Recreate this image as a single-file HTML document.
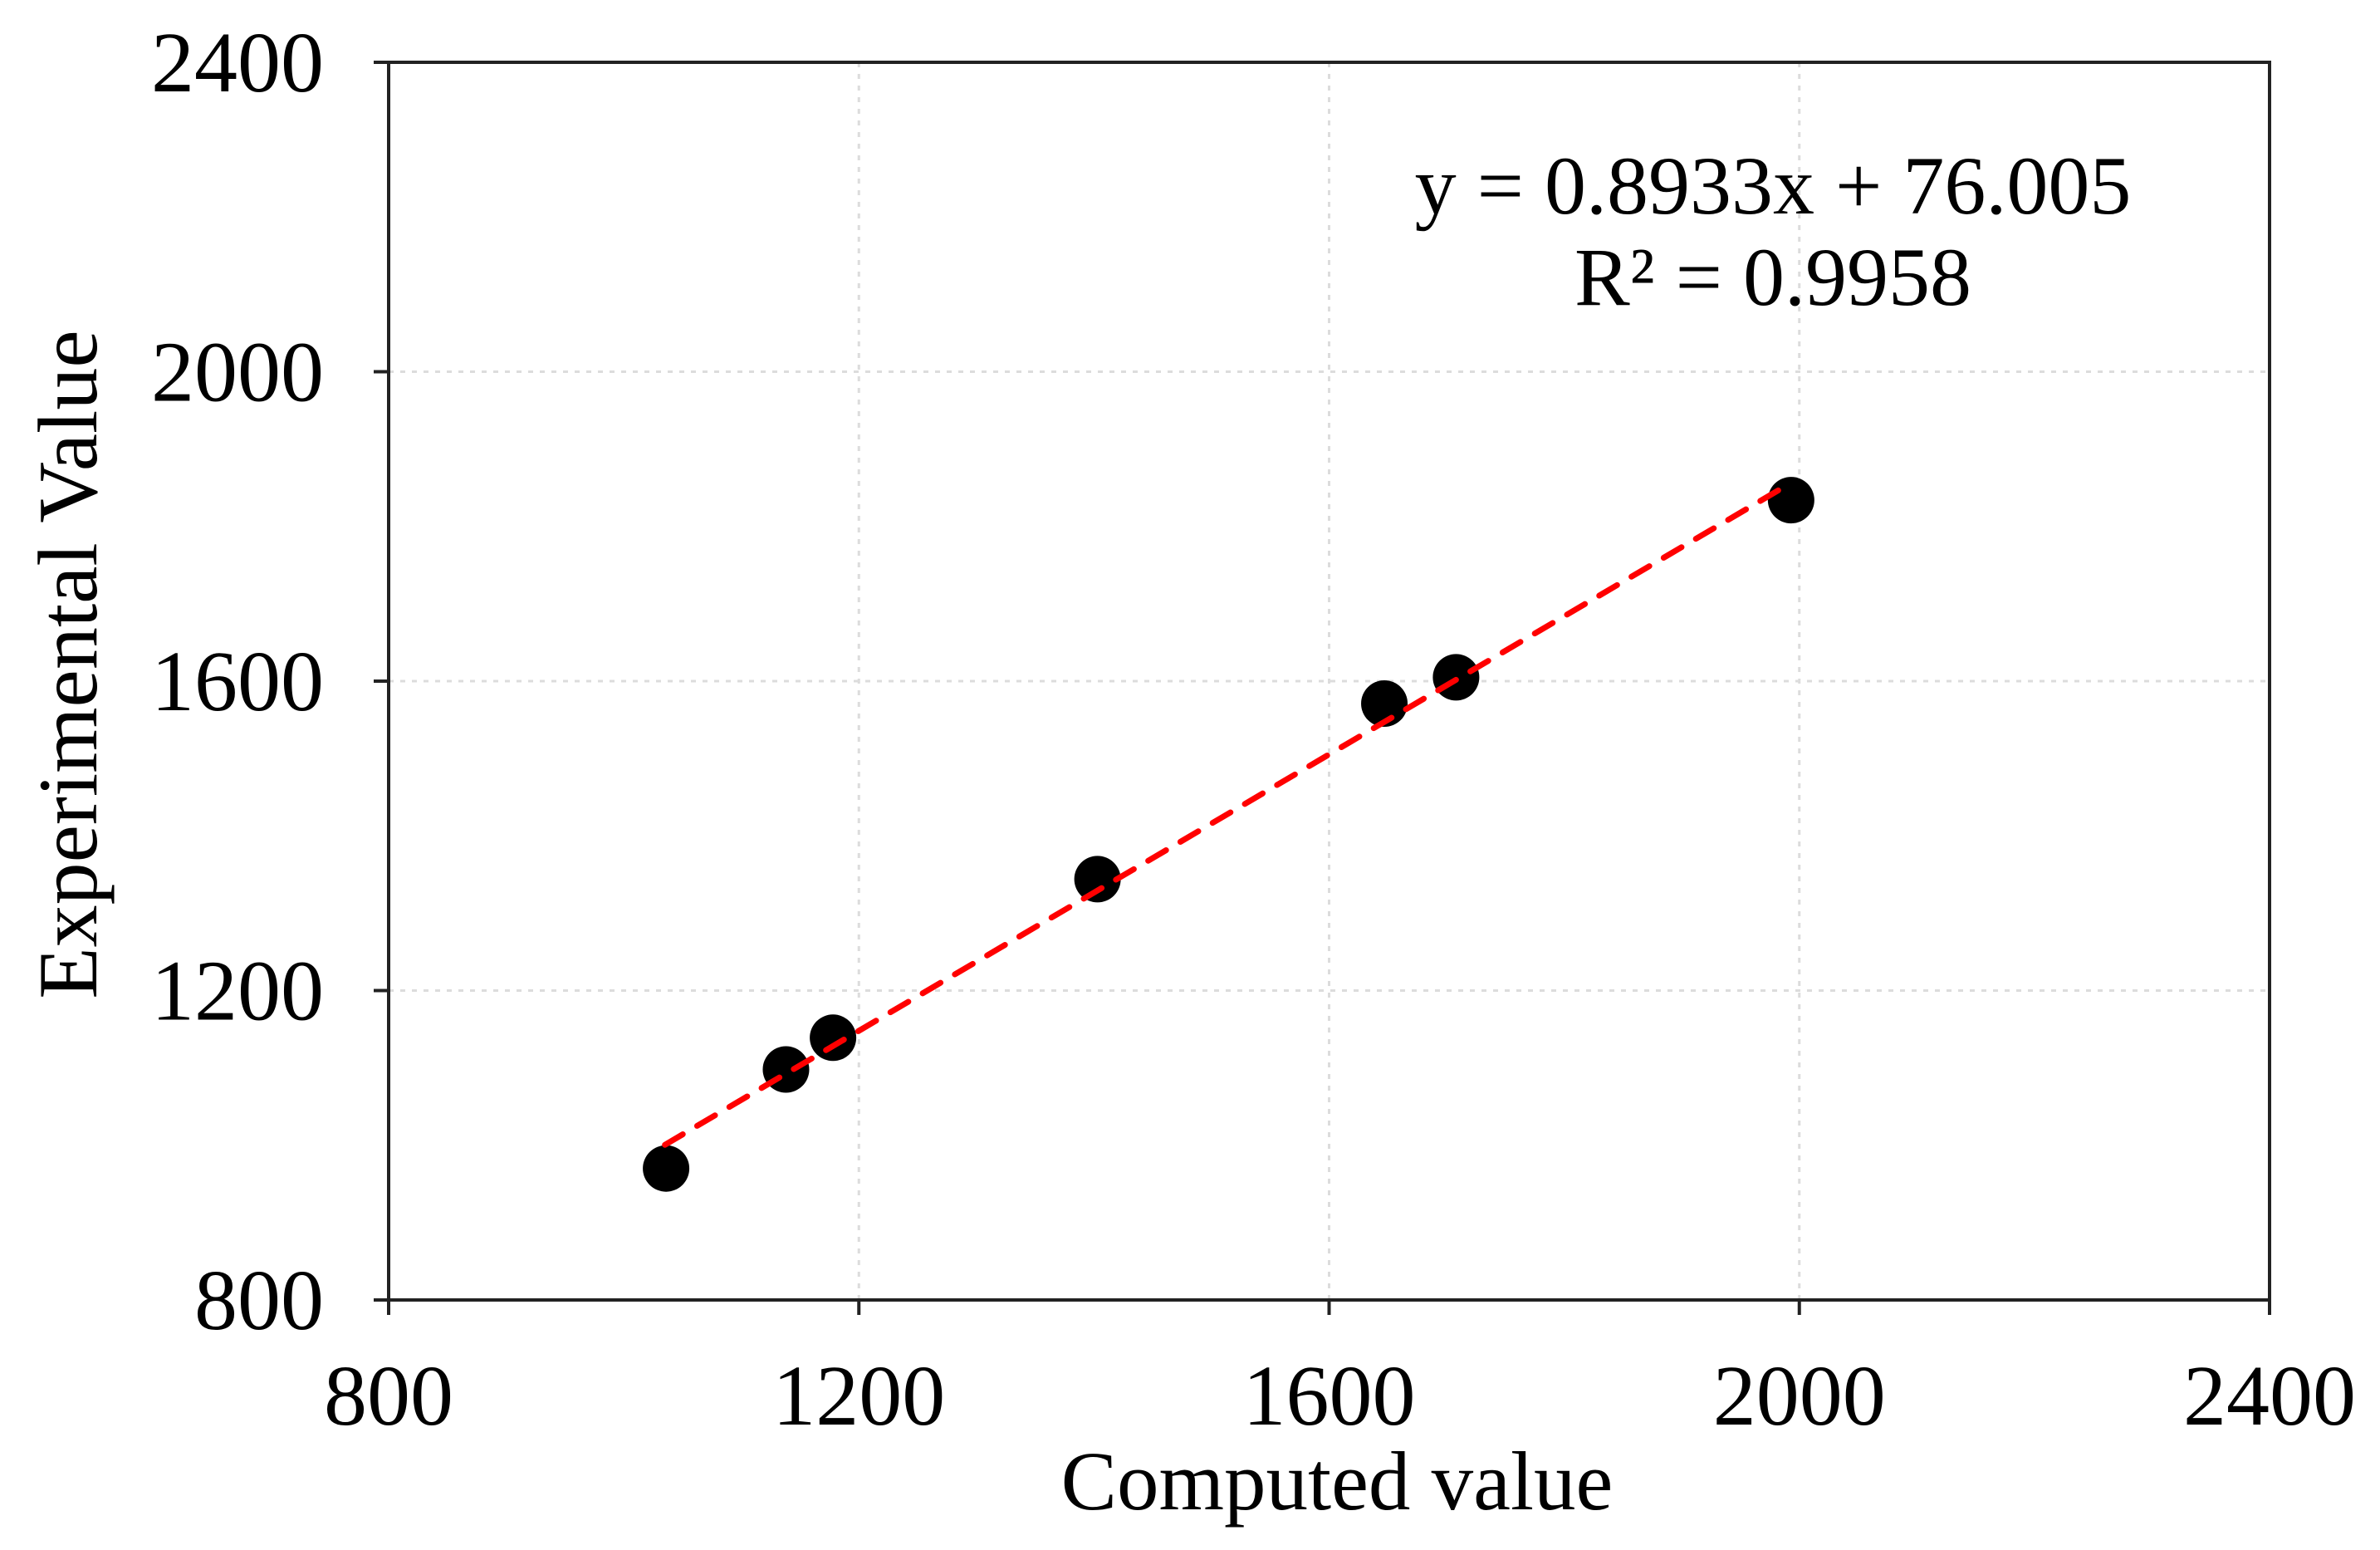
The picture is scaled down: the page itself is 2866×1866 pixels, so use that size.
<!DOCTYPE html>
<html><head><meta charset="utf-8"><style>
html,body{margin:0;padding:0;background:#fff;}
svg{display:block;}
text{font-family:"Liberation Serif",serif;fill:#000;}
</style></head><body>
<svg id="chart" width="2866" height="1866" viewBox="0 0 2866 1866" xmlns="http://www.w3.org/2000/svg">
<g id="grid"></g>
<g id="axes"></g>
<g id="ticks"></g>
<g id="points"></g>
<g id="trend"></g>
<text x="2135" y="257" font-size="100" text-anchor="middle">y = 0.8933x + 76.005</text>
<text x="2135" y="367" font-size="100" text-anchor="middle">R² = 0.9958</text>
<text x="1610" y="1817" font-size="101" text-anchor="middle">Computed value</text>
<text transform="translate(116,800) rotate(-90)" font-size="102" text-anchor="middle">Experimental Value</text>
</svg>
<script>
const xTicks = [800, 1200, 1600, 2000, 2400];
const yTicks = [800, 1200, 1600, 2000, 2400];
const computed = [1036, 1138, 1178, 1403, 1647, 1708, 1993];
const experimental = [970, 1098, 1139, 1344, 1571, 1605, 1834];
const slope = 0.8933;
const intercept = 76.005;
const trendRange = [1035, 1990];

const L=468,R=2733,T=75,B=1565;
const xs=v=>L+(v-800)/1600*(R-L);
const ys=v=>B-(v-800)/1600*(B-T);
const NS='http://www.w3.org/2000/svg';
function mk(tag,attrs,parent){const e=document.createElementNS(NS,tag);for(const k in attrs)e.setAttribute(k,attrs[k]);document.getElementById(parent).appendChild(e);return e;}

xTicks.forEach((t,i)=>{
  const x=xs(t);
  if(i>0&&i<xTicks.length-1){
    const g=mk('line',{x1:x,y1:T,x2:x,y2:B,stroke:'#dcdcdc','stroke-width':3,'stroke-dasharray':'6 8'},'grid');
    
    
  }
  const tk=mk('line',{x1:x,y1:B,x2:x,y2:B+18,stroke:'#222','stroke-width':4},'axes');
  
  
  const lb=mk('text',{x:x,y:1715,'font-size':104,'text-anchor':'middle'},'ticks');
  lb.textContent=t;
  
  
});
yTicks.forEach((t,i)=>{
  const y=ys(t);
  if(i>0&&i<yTicks.length-1){
    const g=mk('line',{x1:L,y1:y,x2:R,y2:y,stroke:'#dcdcdc','stroke-width':3,'stroke-dasharray':'6 8'},'grid');
    
    
  }
  const tk=mk('line',{x1:L-18,y1:y,x2:L,y2:y,stroke:'#222','stroke-width':4},'axes');
  
  
  const lb=mk('text',{x:390,y:y+35,'font-size':104,'text-anchor':'end'},'ticks');
  lb.textContent=t;
  
  
});
const frame=mk('rect',{x:L,y:T,width:R-L,height:B-T,fill:'none',stroke:'#222','stroke-width':4},'axes');



computed.forEach((c,i)=>{
  const p=mk('circle',{cx:xs(c),cy:ys(experimental[i]),r:28,fill:'#000'},'points');
  
  
});
const tl=mk('line',{x1:xs(trendRange[0]),y1:ys(slope*trendRange[0]+intercept),x2:xs(trendRange[1]),y2:ys(slope*trendRange[1]+intercept),stroke:'#ff0000','stroke-width':7,'stroke-dasharray':'25 20','stroke-linecap':'round'},'trend');


</script>
</body></html>
